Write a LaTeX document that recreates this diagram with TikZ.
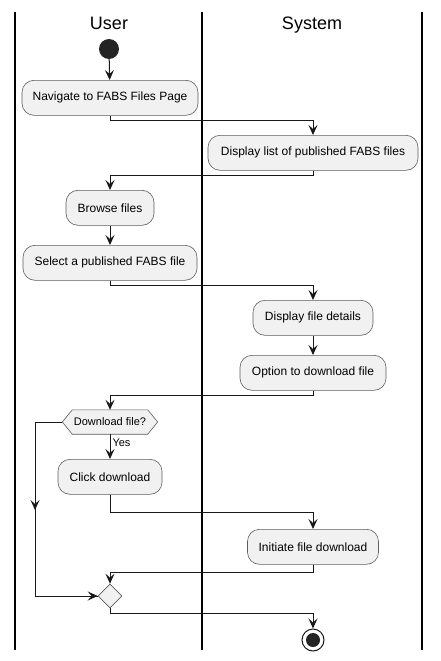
\documentclass[tikz,border=0pt]{standalone}
\usepackage{fontspec}
\setmainfont{Liberation Sans}
\usetikzlibrary{arrows.meta,shapes.geometric,calc}
\definecolor{fillc}{HTML}{F1F1F1}
\definecolor{linec}{HTML}{181818}
\begin{document}
\begin{tikzpicture}[x=1pt,y=-1pt,
  act/.style={draw=linec!70,line width=0.6pt,fill=fillc,rounded corners=12pt,minimum height=35pt,inner sep=0pt,font=\fontsize{12}{14}\selectfont,anchor=north},
  arr/.style={draw=linec,line width=1pt,-{Stealth[length=10pt,width=9pt,inset=4pt]}},
  ln/.style={draw=linec,line width=1pt},
  lane/.style={draw=black,line width=1.5pt},
  title/.style={font=\fontsize{18}{21}\selectfont,anchor=base,inner sep=0pt}]
\useasboundingbox (0,0) rectangle (440,661);
\fill[white] (0,0) rectangle (440,661);
% lanes
\draw[lane] (15,12) -- (15,650);
\draw[lane] (202,12) -- (202,650);
\draw[lane] (422,12) -- (422,650);
\node[title] (tuser) at (109,29.5) {User};
\node[title] (tsys) at (312,29.5) {System};
% start
\node[circle,fill=linec!95,minimum size=20pt,inner sep=0pt] (start) at (109,49) {};
\node[act,minimum width=176pt] (nav) at (110,80) {Navigate to FABS Files Page};
\node[act,minimum width=210pt] (disp) at (313,135) {Display list of published FABS files};
\node[act,minimum width=88pt] (browse) at (110,190) {Browse files};
\node[act,minimum width=174pt] (sel) at (110,245) {Select a published FABS file};
\node[act,minimum width=120pt] (det) at (313,300) {Display file details};
\node[act,minimum width=146pt] (opt) at (313,355) {Option to download file};
\node[inner sep=0pt,minimum width=95pt,minimum height=24pt,font=\fontsize{11}{13}\selectfont] (dec) at (110,422) {Download file?};
\draw[draw=linec!70,line width=0.6pt,fill=fillc] (dec.west) -- ($(dec.north west)+(10,0)$) -- ($(dec.north east)+(-10,0)$) -- (dec.east) -- ($(dec.south east)+(-10,0)$) -- ($(dec.south west)+(10,0)$) -- cycle;
\node[inner sep=0pt,font=\fontsize{11}{13}\selectfont] at (dec.center) {Download file?};
\node[act,minimum width=104pt] (click) at (110,459) {Click download};
\node[act,minimum width=131pt] (init) at (313,529) {Initiate file download};
\node[diamond,draw=linec!70,line width=0.6pt,fill=fillc,minimum width=24pt,minimum height=24pt,inner sep=0pt] (merge) at (110,596) {};
\node[circle,draw=linec,line width=1pt,fill=white,minimum size=22pt,inner sep=0pt] (end) at (313,640) {};
\node[circle,fill=linec!95,minimum size=14pt,inner sep=0pt] at (end.center) {};
% connectors
\draw[arr] (start) -- (nav);
\draw[arr] (nav.south) -- ++(0,5) -| (disp.north);
\draw[arr] (disp.south) -- ++(0,5) -| (browse.north);
\draw[arr] (browse) -- (sel);
\draw[arr] (sel.south) -- ++(0,5) -| (det.north);
\draw[arr] (det) -- (opt);
\draw[arr] (opt.south) -- ++(0,5) -| (dec.north);
\draw[arr] (dec.south) -- node[right,pos=0.35,font=\fontsize{11}{13}\selectfont,inner sep=2pt] {Yes} (click.north);
\draw[arr] (click.south) -- ++(0,18) -| (init.north);
\draw[arr] (init.south) -- ++(0,8) -| (merge.north);
\coordinate (lc) at (35,422);
\coordinate (lb) at (35,596);
\draw[ln] (dec.west) -- (lc) -- (lb) -- (merge.west);
\draw[arr] (lc) -- (35,510);
\draw[arr] (lb) -- (merge.west);
\draw[arr] (merge.south) -- ++(0,5) -| (end.north);
\end{tikzpicture}
\end{document}
